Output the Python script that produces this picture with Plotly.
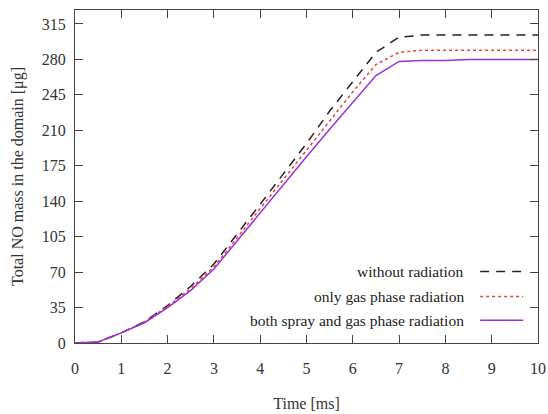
import plotly.graph_objects as go

time_ms = [0, 0.5, 1, 1.5, 2, 2.5, 3, 3.5, 4, 4.5, 5, 5.5, 6, 6.5, 7, 7.5, 8, 8.5, 9, 9.5, 10]
no_rad = [0, 1, 10, 21, 37, 56, 78, 107, 137, 167, 197, 229, 258, 287, 302, 304, 304, 304, 304, 304, 304]
gas_rad = [0, 1, 10, 21, 36, 54, 75, 104, 133, 162, 191, 220, 248, 275, 287, 289, 289, 289, 289, 289, 289]
both_rad = [0, 1, 10, 20, 35, 52, 73, 101, 129, 157, 184, 211, 238, 264, 278, 279, 279, 280, 280, 280, 280]

names = ["without radiation", "only gas phase radiation", "both spray and gas phase radiation"]
colors = ["#222222", "#e8403a", "#9a30d8"]
dashes = ["9px,7px", "dot", "solid"]
series = [no_rad, gas_rad, both_rad]

font = "Liberation Serif, Times New Roman, serif"
fig = go.Figure()
for s, n, c, d in zip(series, names, colors, dashes):
    fig.add_trace(go.Scatter(x=time_ms, y=s, mode="lines", name=n,
                             line=dict(color=c, dash=d, width=1.5), showlegend=False))

# legend drawn gnuplot-style: text right-aligned, sample on the right
leg_y = [0.215, 0.14, 0.068]
for n, c, d, yy in zip(names, colors, dashes, leg_y):
    fig.add_annotation(x=0.845, y=yy, xref="paper", yref="paper", text=n, showarrow=False,
                       xanchor="right", yanchor="middle", font=dict(family=font, size=15.5, color="#222"))
    fig.add_shape(type="line", xref="paper", yref="paper", x0=0.875, x1=0.968, y0=yy, y1=yy,
                  line=dict(color=c, dash=d, width=1.5))

axis_common = dict(showgrid=False, zeroline=False, showline=True, linecolor="#444", linewidth=1.2,
                   mirror="ticks", ticks="inside", ticklen=8, tickcolor="#444", automargin=False,
                   tickfont=dict(family=font, size=16, color="#333"))
fig.update_xaxes(range=[0, 10], dtick=1, tick0=0, ticklabelstandoff=11,
                 title=dict(text="Time [ms]", font=dict(family=font, size=16, color="#333"), standoff=21),
                 **axis_common)
fig.update_yaxes(range=[0, 328.8], dtick=35, tick0=0, ticklabelstandoff=5,
                 title=dict(text="Total NO mass in the domain [μg]", font=dict(family=font, size=16, color="#333"), standoff=14),
                 **axis_common)
fig.update_layout(width=548, height=414, margin=dict(l=75, r=10, t=10, b=71),
                  plot_bgcolor="white", paper_bgcolor="white")
fig.write_html("out.html")
